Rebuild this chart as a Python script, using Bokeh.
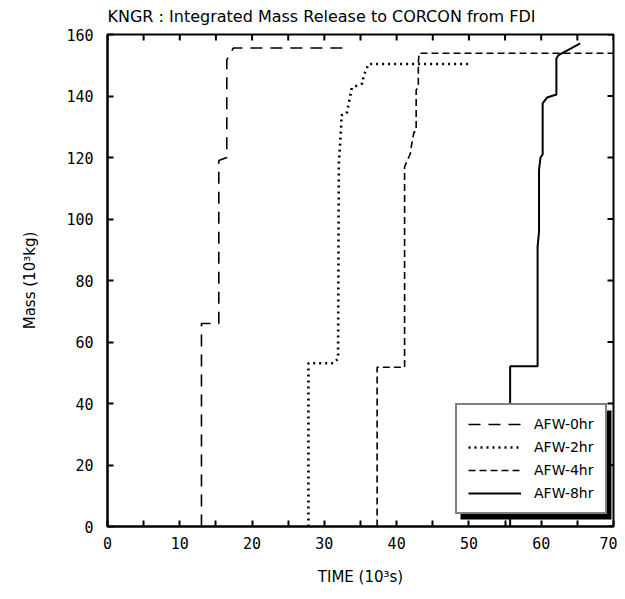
from bokeh.plotting import figure
from bokeh.models import (Range1d, FixedTicker, Legend, LegendItem, BoxAnnotation)
from bokeh.embed import file_html
from bokeh.resources import INLINE

# ---- data ----
series_names = ["AFW-0hr", "AFW-2hr", "AFW-4hr", "AFW-8hr"]

t_0hr = [13.0, 13.0, 15.4, 15.4, 16.5, 16.5, 17.4, 33.6]
m_0hr = [0.0, 66.0, 66.0, 119.0, 120.0, 151.7, 155.6, 155.6]

t_2hr = [27.8, 27.8, 31.3, 31.9, 32.0, 32.35, 32.35, 33.1, 33.8, 35.3, 35.4, 36.1, 49.9]
m_2hr = [0.0, 53.1, 53.1, 54.6, 118.0, 131.0, 133.7, 134.3, 142.7, 144.1, 146.3, 150.4, 150.4]

t_4hr = [37.3, 37.3, 41.1, 41.1, 41.9, 42.1, 42.4, 42.7, 42.7, 43.0, 43.0, 43.1, 70.0]
m_4hr = [0.0, 51.8, 51.8, 117.0, 121.3, 124.6, 128.3, 128.5, 141.9, 143.0, 150.7, 153.9, 153.9]

t_8hr = [55.7, 55.7, 59.5, 59.5, 59.7, 59.7, 59.9, 60.2, 60.2, 60.8, 61.9, 62.1, 62.1, 62.4, 65.4]
m_8hr = [0.0, 52.1, 52.1, 91.0, 96.0, 116.0, 120.0, 121.0, 137.6, 139.5, 140.3, 140.5, 152.2, 153.3, 157.1]

x_ticks = [0, 10, 20, 30, 40, 50, 60, 70]
x_minor_ticks = [5, 15, 25, 35, 45, 55, 65]
y_ticks = [0, 20, 40, 60, 80, 100, 120, 140, 160]

title_text = "KNGR : Integrated Mass Release to CORCON from FDI"
x_label = "TIME (10\u00b3s)"
y_label = "Mass (10\u00b3kg)"

FONT = "DejaVu Sans"
NUMFONT = "DejaVu Sans Mono"

X0, X1 = 0, 70
Y0, Y1 = 0, 160
FW, FH = 506, 492          # frame size in px
TICK = 6                   # inward tick length in px
sx = (X1 - X0) / FW        # data units per px
sy = (Y1 - Y0) / FH

p = figure(width=617, height=595, x_range=Range1d(X0, X1), y_range=Range1d(Y0, Y1),
           output_backend="svg", toolbar_location=None,
           min_border_left=107, min_border_right=4, min_border_top=34, min_border_bottom=69,
           title=title_text)

p.title.text_font = FONT
p.title.text_font_size = "16px"
p.title.text_font_style = "normal"
p.title.text_color = "black"
p.title.align = "left"
p.title.vertical_align = "top"
p.title.text_line_height = 0.8
p.title.standoff = 13

p.grid.visible = False
p.outline_line_color = "black"
p.outline_line_width = 2
p.background_fill_color = "white"
p.border_fill_color = "white"

xt = FixedTicker(ticks=x_ticks, minor_ticks=x_minor_ticks)
yt = FixedTicker(ticks=y_ticks)

def style_axis(ax):
    ax.axis_line_color = "black"
    ax.axis_line_width = 2
    ax.major_tick_in = TICK
    ax.major_tick_out = 0
    ax.minor_tick_in = TICK
    ax.minor_tick_out = 0
    ax.major_tick_line_width = 2
    ax.minor_tick_line_width = 2
    ax.major_tick_line_color = "black"
    ax.minor_tick_line_color = "black"
    ax.major_label_text_font = NUMFONT
    ax.major_label_text_font_size = "15px"
    ax.major_label_text_color = "black"
    ax.axis_label_text_font = FONT
    ax.axis_label_text_font_size = "15px"
    ax.axis_label_text_font_style = "normal"
    ax.axis_label_text_color = "black"

xa = p.xaxis[0]
xa.ticker = xt
xa.axis_label = x_label
style_axis(xa)
xa.major_label_standoff = 10
xa.axis_label_standoff = 16

ya = p.yaxis[0]
ya.ticker = yt
ya.axis_label = y_label
style_axis(ya)
ya.major_label_standoff = 14
ya.axis_label_standoff = 24

# inward ticks on the top and right frame edges (mirroring the tick arrays)
all_x = x_ticks + x_minor_ticks
p.segment(x0=all_x, y0=[Y1] * len(all_x), x1=all_x, y1=[Y1 - TICK * sy] * len(all_x),
          line_color="black", line_width=2)
p.segment(x0=[X1] * len(y_ticks), y0=y_ticks, x1=[X1 - TICK * sx] * len(y_ticks), y1=y_ticks,
          line_color="black", line_width=2)

r0 = p.line(t_0hr, m_0hr, line_color="black", line_width=1.6, line_dash="12 8")
r2 = p.line(t_2hr, m_2hr, line_color="black", line_width=2.6, line_dash="2 4")
r4 = p.line(t_4hr, m_4hr, line_color="black", line_width=1.6, line_dash="7 4")
r8 = p.line(t_8hr, m_8hr, line_color="black", line_width=2)

# legend drop shadow (legend box: 348..498 px right, 12..121 px up inside the frame)
shadow = BoxAnnotation(left=353 * sx, right=504 * sx, bottom=7 * sy, top=116 * sy,
                       fill_color="black", fill_alpha=1.0, line_color=None)
p.add_layout(shadow)

legend = Legend(items=[LegendItem(label=series_names[0], renderers=[r0]),
                       LegendItem(label=series_names[1], renderers=[r2]),
                       LegendItem(label=series_names[2], renderers=[r4]),
                       LegendItem(label=series_names[3], renderers=[r8])],
                location=(348, 12))
legend.border_line_color = "black"
legend.border_line_width = 2
legend.background_fill_color = "white"
legend.background_fill_alpha = 1.0
legend.label_text_font = FONT
legend.label_text_font_size = "14px"
legend.label_text_color = "black"
legend.glyph_width = 53
legend.glyph_height = 16
legend.label_height = 16
legend.label_standoff = 13
legend.spacing = 7
legend.padding = 11
legend.margin = 0
p.add_layout(legend, "center")

open("out.html", "w").write(file_html(p, INLINE))
